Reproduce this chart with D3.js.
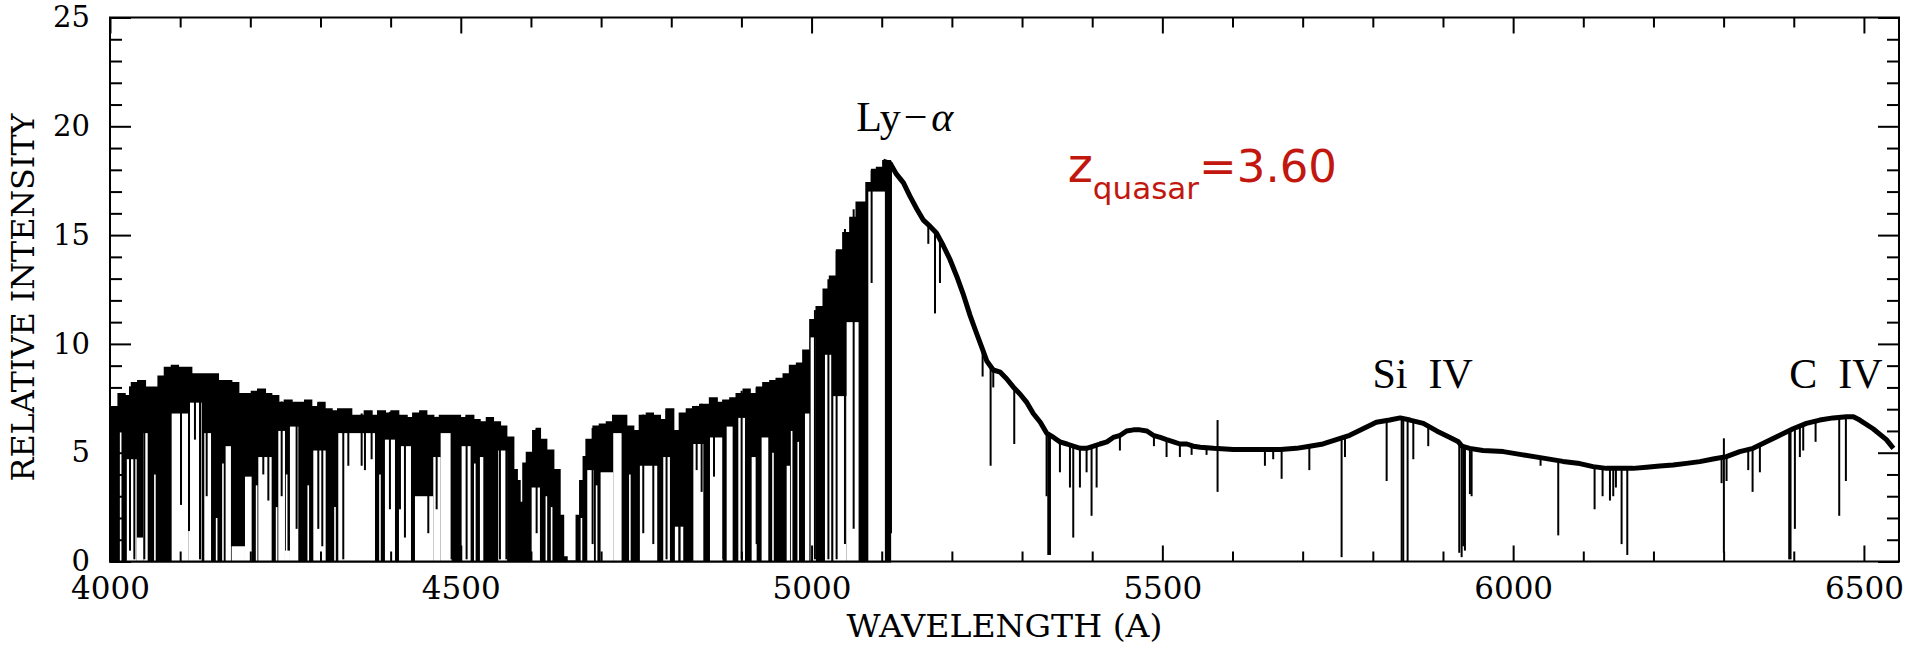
<!DOCTYPE html>
<html>
<head>
<meta charset="utf-8">
<script src="https://cdn.jsdelivr.net/npm/d3@7"></script>
<style>
  html, body { margin: 0; padding: 0; background: #fff; }
  svg { display: block; }
  .axis text { font-family: "DejaVu Serif", serif; font-size: 31px; fill: #000; }
  .axis.yl text { font-size: 29px; }
  .axis line { stroke: #000; stroke-width: 2; }
  .axis path { display: none; }
  .ttl { font-family: "DejaVu Serif", serif; font-size: 32px; fill: #000; }
  .ion { font-family: "Liberation Serif", "DejaVu Serif", serif; font-size: 42px; fill: #000; white-space: pre; }
  .zq { font-family: "DejaVu Sans", sans-serif; fill: #c1170f; }
</style>
</head>
<body>
<div id="chart"></div>
<script>
/* quasar spectrum, z = 3.60 */

// upper envelope of the spectrum (Å, relative intensity)
const envWl = [4000, 4012, 4021, 4031, 4040, 4050, 4059, 4069, 4078, 4088, 4097, 4107, 4116, 4126, 4135, 4145,
  4154, 4164, 4173, 4183, 4192, 4202, 4211, 4221, 4230, 4240, 4249, 4259, 4268, 4278, 4287, 4297, 4306, 4316,
  4325, 4335, 4344, 4354, 4363, 4373, 4382, 4392, 4401, 4411, 4423, 4432, 4442, 4451, 4461, 4470, 4480, 4489,
  4499, 4508, 4518, 4527, 4537, 4546, 4556, 4565, 4575, 4580, 4584, 4589, 4594, 4603, 4608, 4613, 4622, 4632,
  4641, 4646, 4651, 4660, 4665, 4670, 4675, 4679, 4689, 4698, 4708, 4717, 4727, 4736, 4746, 4755, 4765, 4774,
  4784, 4793, 4803, 4812, 4822, 4831, 4841, 4855, 4865, 4874, 4884, 4893, 4903, 4912, 4922, 4931, 4941, 4950,
  4960, 4969, 4979, 4988, 4998, 5007, 5017, 5026, 5036, 5045, 5055, 5064, 5074, 5078, 5086, 5093, 5102, 5112,
  5121, 5131, 5140, 5150, 5159, 5169, 5178, 5188, 5197, 5207, 5216, 5226, 5235, 5242, 5250, 5259, 5269, 5278,
  5288, 5297, 5307, 5316, 5326, 5335, 5345, 5354, 5364, 5373, 5383, 5392, 5402, 5411, 5421, 5430, 5440, 5449,
  5459, 5468, 5478, 5487, 5497, 5506, 5516, 5525, 5535, 5544, 5554, 5573, 5601, 5630, 5668, 5691, 5710, 5729,
  5748, 5767, 5786, 5805, 5824, 5839, 5853, 5872, 5891, 5910, 5922, 5927, 5938, 5957, 5986, 6014, 6043, 6071,
  6095, 6114, 6133, 6152, 6171, 6190, 6209, 6228, 6247, 6266, 6285, 6304, 6323, 6342, 6361, 6380, 6399, 6418,
  6437, 6456, 6475, 6485, 6494, 6513, 6532, 6542];
const envFlux = [7.1, 7.7, 7.6, 8.2, 8.3, 8.0, 8.0, 8.5, 8.9, 9.0, 8.9, 8.9, 8.6, 8.6, 8.6, 8.6,
  8.3, 8.3, 8.2, 7.7, 7.7, 7.8, 7.9, 7.7, 7.6, 7.3, 7.4, 7.3, 7.3, 7.4, 7.1, 7.3, 7.0, 6.9,
  7.0, 7.0, 6.7, 6.7, 6.9, 6.7, 6.9, 6.8, 6.9, 6.7, 6.6, 6.8, 6.9, 6.7, 6.6, 6.7, 6.7, 6.7,
  6.6, 6.7, 6.5, 6.4, 6.6, 6.4, 6.2, 5.7, 4.2, 3.7, 2.7, 4.5, 5.0, 6.0, 6.1, 5.6, 5.1, 4.2,
  2.1, 0.2, 0.0, 0.0, 2.1, 3.7, 4.8, 5.6, 6.2, 6.3, 6.4, 6.7, 6.7, 6.2, 6.0, 6.7, 6.8, 6.7,
  6.5, 7.0, 6.0, 6.8, 7.0, 7.1, 7.2, 7.5, 7.3, 7.4, 7.5, 7.7, 7.9, 7.7, 8.0, 8.2, 8.3, 8.4,
  8.6, 9.0, 9.1, 9.7, 11.1, 11.7, 12.5, 13.1, 14.3, 15.1, 15.8, 16.5, 16.5, 17.4, 18.0, 18.1, 18.4, 18.3,
  17.8, 17.4, 16.8, 16.2, 15.7, 15.4, 15.1, 14.5, 13.9, 13.1, 12.3, 11.3, 10.5, 9.9, 9.2, 8.8, 8.7, 8.4,
  8.0, 7.7, 7.3, 6.8, 6.4, 5.9, 5.7, 5.5, 5.4, 5.3, 5.2, 5.2, 5.3, 5.4, 5.5, 5.7, 5.8, 6.0,
  6.05, 6.05, 6.0, 5.8, 5.7, 5.6, 5.5, 5.4, 5.4, 5.3, 5.25, 5.2, 5.15, 5.15, 5.15, 5.2, 5.3, 5.4,
  5.6, 5.8, 6.1, 6.4, 6.5, 6.6, 6.5, 6.35, 6.0, 5.7, 5.5, 5.3, 5.2, 5.1, 5.05, 4.9, 4.75, 4.6,
  4.5, 4.36, 4.28, 4.28, 4.28, 4.33, 4.39, 4.43, 4.51, 4.59, 4.71, 4.82, 5.05, 5.2, 5.5, 5.8, 6.1, 6.35,
  6.5, 6.6, 6.65, 6.65, 6.5, 6.1, 5.6, 5.2];

// Ly-alpha forest ends here; blueward the spectrum is a dense black band
const forestEnd = 5112;

// stretches inside the forest where the flux stays high (white below "clearTop")
const clearFrom = [4024, 4038, 4047.5, 4087.9, 4111.6, 4134.4, 4164.8, 4173.4, 4192.4, 4211.4, 4239.9, 4249.4,
  4256.5, 4289.8, 4325.4, 4391.9, 4411.9, 4434.7, 4460.8, 4471.3, 4501.2, 4527.3, 4553.4, 4601.0, 4680.3,
  4699.3, 4717.3, 4755.3, 4788.6, 4805.2, 4813.3, 4831.5, 4855.2, 4879.0, 4895.6, 4914.6, 4928.8, 4964.5,
  4990.6, 4998.7, 5019.1, 5031.0, 5050.0, 5080.9];
const clearTo = [4038, 4047.5, 4053.7, 4111.6, 4130.6, 4144.0, 4172.4, 4192.4, 4201.9, 4230.4, 4249.4, 4256.5,
  4268.4, 4307.4, 4377.7, 4406.2, 4429.0, 4460.8, 4471.3, 4486.9, 4514.0, 4532.1, 4566.0, 4612.8, 4689.8,
  4717.3, 4729.2, 4780.0, 4798.1, 4810.0, 4817.1, 4845.7, 4873.3, 4887.5, 4905.1, 4921.7, 4938.3, 4969.2,
  4996.8, 5006.3, 5028.0, 5050.0, 5067.0, 5104.6];
const clearTop = [4.7, 1.1, 5.9, 6.8, 7.3, 5.9, 5.3, 0.7, 3.9, 4.8, 6.0, 0.5,
  6.2, 5.1, 5.9, 5.6, 5.3, 3.0, 4.8, 5.9, 5.3, 4.8, 5.1, 3.4, 4.2,
  4.1, 5.9, 4.4, 4.8, 1.6, 1.6, 5.4, 5.7, 6.2, 6.6, 4.8, 5.7, 4.4,
  6.8, 10.3, 9.5, 7.6, 11.0, 17.0];

// narrow high-flux spikes between saturated forest lines (Å, height)
const gapWl = [4015.2, 4064.0, 4152.0, 4161.0, 4209.0, 4237.5, 4251.8, 4282.6, 4320.7, 4384.8, 4520.0,
  4622.0, 4629.5, 4672.0, 4693.6, 4741.0, 4945.0, 4971.6, 4981.0];
const gapTop = [6.0, 4.0, 2.0, 4.5, 3.5, 2.5, 4.0, 3.5, 2.5, 4.0, 4.5,
  3.0, 2.5, 2.0, 3.5, 4.0, 5.0, 6.0, 5.5];

// single absorption lines (Å, minimum intensity)
const lineWl = [4028.5, 4034.7, 4048.9, 4101.2, 4112.6, 4121.1, 4128.3, 4137.8, 4218.5, 4225.7, 4244.7, 4266.0,
  4296.9, 4302.6, 4332.5, 4339.7, 4358.7, 4363.4, 4372.9, 4399.0, 4413.3, 4420.4, 4453.7, 4465.6, 4486.9,
  4508.3, 4555.8, 4565.0, 4608.1, 4687.9, 4760.1, 4774.4, 4793.3, 4836.2, 4843.3, 4860.9, 4874.2, 4900.3,
  4921.7, 5004.8, 5024.0, 5035.7, 5047.6, 5060.0, 5085.6, 5106.0, 5108.9, 5113.2,
  5166.4, 5175.9, 5183.0, 5243.8, 5255.2, 5259.0, 5288.9, 5335.0, 5337.4, 5339.8, 5354.0, 5368.3, 5373.0,
  5382.5, 5392.0, 5399.1, 5406.3, 5439.5, 5488.0, 5506.0, 5525.0, 5541.7, 5563.0, 5578.7, 5646.2, 5658.0,
  5670.0, 5709.5, 5755.5, 5760.3, 5819.7, 5841.1, 5843.4, 5849.6, 5857.7, 5879.0, 5923.2, 5926.6, 5928.9,
  5931.3, 5938.4, 5940.8, 6039.1, 6064.3, 6116.1, 6127.5, 6138.0, 6142.7, 6146.5, 6154.6, 6162.7, 6297.1,
  6300.4, 6304.2, 6335.1, 6341.3, 6351.7, 6393.5, 6395.4, 6401.6, 6408.7, 6413.5, 6431.1, 6464.8, 6474.3];
const lineMin = [0.5, 0.1, 0.1, 2.6, 1.4, 5.6, 0.1, 3.0, 4.0, 2.8, 3.0, 1.5,
  1.5, 0.7, 0.1, 4.4, 4.4, 4.2, 4.7, 2.4, 2.4, 1.1, 1.3, 2.4, 0.1,
  0.1, 0.1, 0.1, 1.3, 0.8, 1.3, 0.8, 0.1, 4.2, 3.2, 3.9, 0.1, 0.1,
  0.8, 0.1, 0.1, 0.1, 0.8, 1.5, 12.8, 0.1, 0.1, 1.3,
  14.6, 11.4, 12.8, 8.5, 4.4, 8.0, 5.4, 3.0, 0.3, 0.3, 4.1, 3.4, 1.1,
  3.4, 4.1, 2.1, 3.4, 5.1, 5.3, 4.8, 4.8, 4.9, 4.9, 3.2, 4.4, 4.7,
  3.8, 4.2, 0.2, 4.8, 3.7, 0.0, 0.0, 0.0, 4.7, 5.3, 0.4, 0.2, 0.7,
  0.5, 3.1, 3.0, 4.4, 1.2, 2.4, 3.0, 2.8, 3.0, 3.4, 0.8, 0.3, 3.6,
  0.4, 3.7, 4.2, 3.2, 4.1, 0.1, 0.1, 1.5, 4.8, 5.1, 5.5, 2.1, 3.7];

// upward noise spikes
const spikeWl = [5578.7, 6300.4];
const spikeMax = [6.5, 5.66];

// axes
const xMajor = [4000, 4500, 5000, 5500, 6000, 6500];
const xMinor = d3.range(4100, 6550, 100).filter(v => v % 500 !== 0);
const yMajor = [0, 5, 10, 15, 20, 25];
const yMinor = d3.range(1, 25).filter(v => v % 5 !== 0);

// emission-line labels
const ionText = ["Si\u00a0\u00a0IV", "C\u00a0\u00a0IV"];
const ionWl = [5871, 6460];
const ionFlux = [7.97, 7.97];

const W = 1907, H = 648;
const PL = 110, PR = 1899, PT = 17.5, PB = 561.5;

const svg = d3.select("#chart").append("svg").attr("width", W).attr("height", H);
const x = d3.scaleLinear().domain([4000, 6550]).range([PL, PR]);
const y = d3.scaleLinear().domain([0, 25]).range([PB, PT]);
// continuum lookup, piecewise through the envelope points
const cont = d3.scaleLinear().domain(envWl).range(envFlux);

const env = envWl.map((w, i) => [w, envFlux[i]]);
const plot = svg.append("g");

/* forest: dense black band under the envelope */
const forest = env.filter(d => d[0] <= forestEnd);
plot.append("path")
  .attr("d", d3.area().x(d => x(d[0])).y0(y(0)).y1(d => y(d[1])).curve(d3.curveStepAfter)(forest))
  .attr("fill", "#000").attr("stroke", "#000").attr("stroke-width", 2);

/* clear stretches and narrow spikes */
plot.append("g").selectAll("rect").data(clearFrom).join("rect")
  .attr("x", d => x(d))
  .attr("width", (d, i) => x(clearTo[i]) - x(d))
  .attr("y", (d, i) => y(clearTop[i]))
  .attr("height", (d, i) => y(0) - y(clearTop[i]))
  .attr("fill", "#fff");
plot.append("g").selectAll("line").data(gapWl).join("line")
  .attr("x1", d => x(d)).attr("x2", d => x(d))
  .attr("y1", y(0)).attr("y2", (d, i) => y(gapTop[i]))
  .attr("stroke", "#fff").attr("stroke-width", 1.6);

/* spectrum redward of the Ly-alpha peak */
plot.append("path")
  .attr("d", d3.line().x(d => x(d[0])).y(d => y(d[1]))(env.filter(d => d[0] >= 5102)))
  .attr("fill", "none").attr("stroke", "#000").attr("stroke-width", 5)
  .attr("stroke-linejoin", "round");

/* absorption lines */
plot.append("g").selectAll("line").data(lineWl).join("line")
  .attr("x1", d => x(d)).attr("x2", d => x(d))
  .attr("y1", (d, i) => y(lineMin[i])).attr("y2", d => y(cont(d)))
  .attr("stroke", "#000").attr("stroke-width", 2);

plot.append("g").selectAll("line").data(spikeWl).join("line")
  .attr("x1", d => x(d)).attr("x2", d => x(d))
  .attr("y1", (d, i) => y(spikeMax[i])).attr("y2", d => y(cont(d)))
  .attr("stroke", "#000").attr("stroke-width", 2);

/* frame and inward ticks */
svg.append("rect").attr("x", PL).attr("y", PT).attr("width", PR - PL).attr("height", PB - PT)
  .attr("fill", "none").attr("stroke", "#000").attr("stroke-width", 2);

svg.append("g").attr("class", "axis").attr("transform", `translate(0,${PB})`)
  .call(d3.axisBottom(x).tickValues(xMajor).tickSize(-16).tickPadding(15).tickFormat(d3.format("d")));
svg.append("g").attr("class", "axis").attr("transform", `translate(0,${PB})`)
  .call(d3.axisBottom(x).tickValues(xMinor).tickSize(-10).tickFormat(""));
svg.append("g").attr("class", "axis").attr("transform", `translate(0,${PT})`)
  .call(d3.axisTop(x).tickValues(xMajor).tickSize(-16).tickFormat(""));
svg.append("g").attr("class", "axis").attr("transform", `translate(0,${PT})`)
  .call(d3.axisTop(x).tickValues(xMinor).tickSize(-10).tickFormat(""));

svg.append("g").attr("class", "axis yl").attr("transform", `translate(${PL},0)`)
  .call(d3.axisLeft(y).tickValues(yMajor).tickSize(-21).tickPadding(20));
svg.append("g").attr("class", "axis").attr("transform", `translate(${PL},0)`)
  .call(d3.axisLeft(y).tickValues(yMinor).tickSize(-12).tickFormat(""));
svg.append("g").attr("class", "axis").attr("transform", `translate(${PR},0)`)
  .call(d3.axisRight(y).tickValues(yMajor).tickSize(-21).tickFormat(""));
svg.append("g").attr("class", "axis").attr("transform", `translate(${PR},0)`)
  .call(d3.axisRight(y).tickValues(yMinor).tickSize(-12).tickFormat(""));

/* axis titles */
svg.append("text").attr("class", "ttl")
  .attr("transform", `translate(34,${(PT + PB) / 2 + 8}) rotate(-90)`)
  .attr("text-anchor", "middle")
  .attr("textLength", 368).attr("lengthAdjust", "spacingAndGlyphs")
  .text("RELATIVE INTENSITY");
svg.append("text").attr("class", "ttl")
  .attr("x", (PL + PR) / 2).attr("y", 637)
  .attr("text-anchor", "middle")
  .attr("textLength", 316).attr("lengthAdjust", "spacingAndGlyphs")
  .text("WAVELENGTH (A)");

/* line identifications */
const lya = svg.append("text").attr("class", "ion")
  .attr("x", x(5133)).attr("y", y(19.8)).attr("text-anchor", "middle").attr("font-size", 44);
lya.append("tspan").text("Ly");
lya.append("tspan").attr("dx", 3).text("\u2212");
lya.append("tspan").attr("dx", 4).attr("font-style", "italic").text("\u03b1");

svg.append("g").selectAll("text.si").data(ionText).join("text")
  .attr("class", "ion")
  .attr("x", (d, i) => x(ionWl[i])).attr("y", (d, i) => y(ionFlux[i]))
  .attr("text-anchor", "middle")
  .text(d => d);

/* redshift tag */
const zq = svg.append("text").attr("class", "zq")
  .attr("x", x(5365)).attr("y", y(17.44));
zq.append("tspan").attr("font-size", 48).text("z");
zq.append("tspan").attr("font-size", 31).attr("dy", 17).text("quasar");
zq.append("tspan").attr("font-size", 45).attr("dy", -17).text("=3.60");
</script>
</body>
</html>
